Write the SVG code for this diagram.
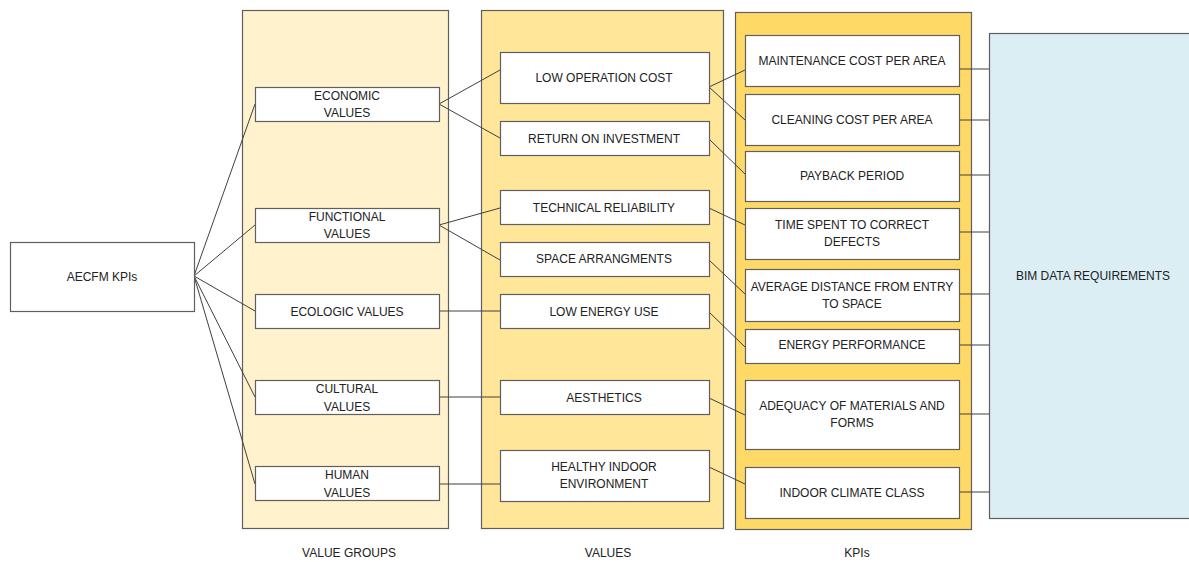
<svg xmlns="http://www.w3.org/2000/svg" width="1189" height="562" viewBox="0 0 1189 562">
<style>
.box{fill:#fff;stroke:#5f5f5f;stroke-width:1.2}
.col{stroke:#5f5f5f;stroke-width:1.2}
text{font-family:"Liberation Sans",Arial,sans-serif;font-size:12px;fill:#222;text-anchor:middle}
.ln{stroke:#404040;stroke-width:1;fill:none}
</style>
<rect width="1189" height="562" fill="#fff"/>
<g id="containers">
<rect id="col-value-groups" class="col" x="242.5" y="10.5" width="206" height="518" fill="#FFF2CC"/>
<rect id="col-values" class="col" x="481.5" y="10.5" width="242" height="518" fill="#FFE699"/>
<rect id="col-kpis" class="col" x="735.5" y="12.5" width="236" height="517" fill="#FFD966"/>
</g>
<g id="connectors">
<path class="ln" d="M194,276 L255,104 M194,276 L255,225 M194,276 L255,311 M194,276 L255,397 M194,276 L255,484"/>
<path class="ln" d="M439,104 L500,70 M439,104 L500,138 M439,225 L500,208 M439,225 L500,260 M439,311 L500,311 M439,397 L500,397 M439,484 L500,484"/>
<path class="ln" d="M709,87 L745,70 M709,87 L745,120 M709,139 L745,174 M709,208 L745,225 M709,260 L745,294 M709,312 L745,347 M709,398 L745,415 M709,467 L745,484"/>
<path class="ln" d="M959,69 H989 M959,120 H989 M959,175 H989 M959,232 H989 M959,294 H989 M959,345 H989 M959,414 H989 M959,492 H989"/>
</g>
<g id="n-aecfm"><rect class="box" x="10.5" y="242.5" width="184" height="69"/><text x="102" y="281">AECFM KPIs</text></g>
<g id="n-economic"><rect class="box" x="255.5" y="87.5" width="184" height="34"/><text x="347" y="100">ECONOMIC</text><text x="347" y="117">VALUES</text></g>
<g id="n-functional"><rect class="box" x="255.5" y="208.5" width="184" height="34"/><text x="347" y="221">FUNCTIONAL</text><text x="347" y="238">VALUES</text></g>
<g id="n-ecologic"><rect class="box" x="255.5" y="294.5" width="184" height="34"/><text x="347" y="316">ECOLOGIC VALUES</text></g>
<g id="n-cultural"><rect class="box" x="255.5" y="380.5" width="184" height="34"/><text x="347" y="393">CULTURAL</text><text x="347" y="411">VALUES</text></g>
<g id="n-human"><rect class="box" x="255.5" y="466.5" width="184" height="34"/><text x="347" y="479">HUMAN</text><text x="347" y="497">VALUES</text></g>
<g id="n-lowop"><rect class="box" x="500.5" y="52.5" width="209" height="51"/><text x="604" y="82">LOW OPERATION COST</text></g>
<g id="n-roi"><rect class="box" x="500.5" y="121.5" width="209" height="34"/><text x="604" y="143">RETURN ON INVESTMENT</text></g>
<g id="n-tech"><rect class="box" x="500.5" y="190.5" width="209" height="34"/><text x="604" y="212">TECHNICAL RELIABILITY</text></g>
<g id="n-space"><rect class="box" x="500.5" y="242.5" width="209" height="34"/><text x="604" y="263">SPACE ARRANGMENTS</text></g>
<g id="n-lowenergy"><rect class="box" x="500.5" y="294.5" width="209" height="34"/><text x="604" y="316">LOW ENERGY USE</text></g>
<g id="n-aesthetics"><rect class="box" x="500.5" y="380.5" width="209" height="34"/><text x="604" y="402">AESTHETICS</text></g>
<g id="n-healthy"><rect class="box" x="500.5" y="450.5" width="209" height="51"/><text x="604" y="471">HEALTHY INDOOR</text><text x="604" y="488">ENVIRONMENT</text></g>
<g id="n-maint"><rect class="box" x="745.5" y="35.5" width="214" height="51"/><text x="852" y="65">MAINTENANCE COST PER AREA</text></g>
<g id="n-cleaning"><rect class="box" x="745.5" y="94.5" width="214" height="51"/><text x="852" y="124">CLEANING COST PER AREA</text></g>
<g id="n-payback"><rect class="box" x="745.5" y="151.5" width="214" height="50"/><text x="852" y="180">PAYBACK PERIOD</text></g>
<g id="n-time"><rect class="box" x="745.5" y="208.5" width="214" height="51"/><text x="852" y="229">TIME SPENT TO CORRECT</text><text x="852" y="246">DEFECTS</text></g>
<g id="n-avgdist"><rect class="box" x="745.5" y="269.5" width="214" height="52"/><text x="852" y="291">AVERAGE DISTANCE FROM ENTRY</text><text x="852" y="308">TO SPACE</text></g>
<g id="n-energyperf"><rect class="box" x="745.5" y="329.5" width="214" height="34"/><text x="852" y="349">ENERGY PERFORMANCE</text></g>
<g id="n-adequacy"><rect class="box" x="745.5" y="380.5" width="214" height="69"/><text x="852" y="410">ADEQUACY OF MATERIALS AND</text><text x="852" y="427">FORMS</text></g>
<g id="n-indoor"><rect class="box" x="745.5" y="467.5" width="214" height="51"/><text x="852" y="497">INDOOR CLIMATE CLASS</text></g>
<g id="n-bim"><rect x="989.5" y="33.5" width="205" height="485" fill="#DAEEF3" stroke="#5f5f5f" stroke-width="1.2"/><text x="1093" y="280">BIM DATA REQUIREMENTS</text></g>
<g id="labels">
<text x="349" y="557">VALUE GROUPS</text>
<text x="608" y="557">VALUES</text>
<text x="857" y="557">KPIs</text>
</g>
</svg>
